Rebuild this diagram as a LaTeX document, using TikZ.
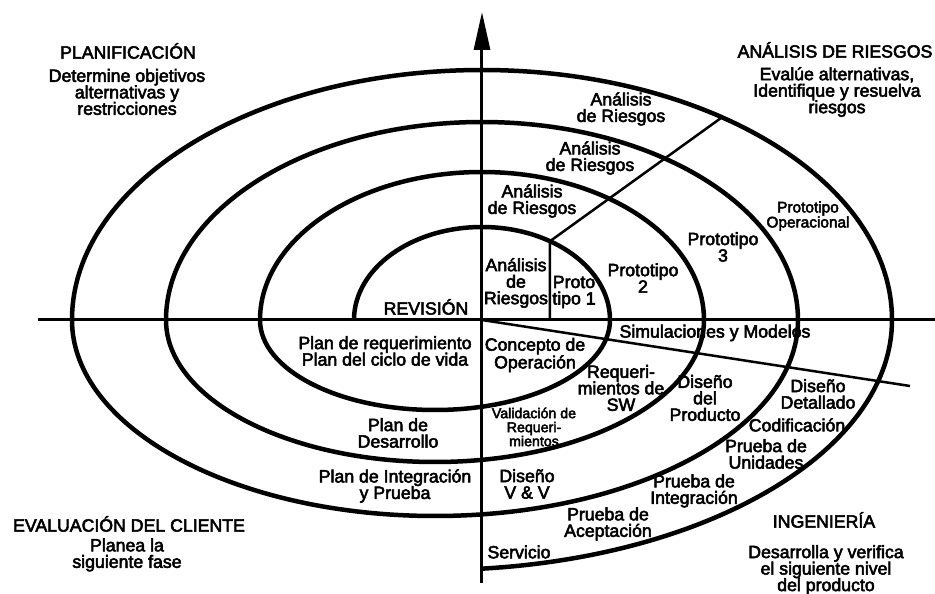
\documentclass[tikz,border=0pt]{standalone}
\usepackage{fontspec}
\setmainfont{Liberation Sans}[FakeBold=3]
\usetikzlibrary{arrows.meta}

\begin{document}
\begin{tikzpicture}[
	x=1pt, y=1pt,
	every node/.style={inner sep=0pt, align=center, font=\fontsize{17.7}{16.5}\selectfont},
	smallnode/.style={font=\fontsize{15.4}{15}\selectfont},
	tinynode/.style={font=\fontsize{14.2}{14}\selectfont},
	spiralline/.style={line width=4.5pt},
	axisline/.style={line width=3pt},
	riskline/.style={line width=2.5pt},
]
\useasboundingbox (-482,-274) rectangle (453,320);

% axes
\coordinate (origin) at (0,0);
\coordinate (west) at (-444,0);
\coordinate (east) at (453,0);
\coordinate (south) at (0,-263);
\coordinate (north) at (0,308);
\draw[axisline] (west) -- (east);
\draw[axisline, -{Triangle[length=38pt,width=16pt]}] (south) -- (north);

% spiral
\draw[spiralline] (-128,0)
	arc[start angle=180, end angle=0, x radius=128, y radius=93]
	arc[start angle=0, end angle=-180, x radius=175, y radius=90]
	arc[start angle=180, end angle=0, x radius=222, y radius=148]
	arc[start angle=0, end angle=-180, x radius=269, y radius=142]
	arc[start angle=180, end angle=0, x radius=316, y radius=198]
	arc[start angle=0, end angle=-180, x radius=363, y radius=196]
	arc[start angle=180, end angle=0, x radius=410, y radius=250]
	arc[start angle=0, end angle=-84.1, x radius=457, y radius=250];

% risk and prototype dividers
\coordinate (protofoot) at (68,0);
\coordinate (prototop) at (68,78.8);
\coordinate (riskend) at (240,202.7);
\coordinate (simend) at (428,-66);
\draw[riskline] (protofoot) -- (prototop) -- (riskend);
\draw[riskline] (origin) -- (simend);

% quadrant titles
\node (plan) at (-354,269) {PLANIFICACIÓN};
\node (plantext) at (-355,228) {Determine objetivos\\alternativas y\\restricciones};
\node (risk) at (353,270) {ANÁLISIS DE RIESGOS};
\node (risktext) at (355,228) {Evalúe alternativas,\\Identifique y resuelva\\riesgos};
\node (eval) at (-353,-204) {EVALUACIÓN DEL CLIENTE};
\node (evaltext) at (-355,-235) {Planea la\\siguiente fase};
\node (eng) at (342,-200) {INGENIERÍA};
\node (engtext) at (344,-250) {Desarrolla y verifica\\el siguiente nivel\\del producto};

% upper right
\node (riskd) at (139,211) {Análisis\\de Riesgos};
\node (riskc) at (108,162) {Análisis\\de Riesgos};
\node (riskb) at (50,119) {Análisis\\de Riesgos};
\node (riska) at (34,37) {Análisis\\de\\Riesgos};
\node (protoa) at (92,28) {Proto\\tipo 1};
\node (protob) at (161,42) {Prototipo\\2};
\node (protoc) at (241,73) {Prototipo\\3};
\node[smallnode] (protod) at (326,104) {Prototipo\\Operacional};
\node (rev) at (-56,13) {REVISIÓN};
\node (sim) at (233,-13) {Simulaciones y Modelos};

% lower half
\node (reqplan) at (-97,-31) {Plan de requerimiento\\Plan del ciclo de vida};
\node (concept) at (53,-35) {Concepto de\\Operación};
\node (swreq) at (139,-68) {Requeri-\\mientos de\\SW};
\node (proddes) at (223,-78) {Diseño\\del\\Producto};
\node (detdes) at (336,-74) {Diseño\\Detallado};
\node (code) at (315,-105) {Codificación};
\node (unittest) at (284,-134) {Prueba de\\Unidades};
\node (inttest) at (212,-171) {Prueba de\\Integración};
\node (acctest) at (126,-204) {Prueba de\\Aceptación};
\node (service) at (37,-232) {Servicio};
\node (vvdes) at (45,-164) {Diseño\\V \& V};
\node[tinynode] (reqval) at (52,-107) {Validación de\\Requeri-\\mientos};
\node (devplan) at (-84,-113) {Plan de\\Desarrollo};
\node (intplan) at (-87,-166) {Plan de Integración\\y Prueba};
\end{tikzpicture}
\end{document}
